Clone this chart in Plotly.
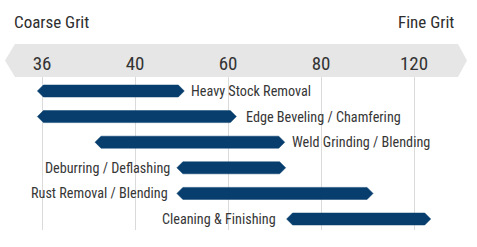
import plotly.graph_objects as go

# ---- data ----
tick_labels = ["36", "40", "60", "80", "120"]          # grit scale (equally spaced positions)
tick_pos = [0, 1, 2, 3, 4]
applications = ["Heavy Stock Removal", "Edge Beveling / Chamfering", "Weld Grinding / Blending",
                "Deburring / Deflashing", "Rust Removal / Blending", "Cleaning & Finishing"]
range_start = [-0.05, -0.05, 0.57, 1.45, 1.45, 2.63]   # on grit-position scale
range_end = [1.53, 2.09, 2.61, 2.62, 3.56, 4.18]
label_side = ["right", "right", "right", "left", "left", "left"]

# ---- style ----
W, H = 477, 247
TOP, BOT = 77, 230
ROW0, ROWSTEP = 91, 25.6
PX_PER_X = 93.0
X0PX = 42
BAR = "#073e6e"
TXT = "#363636"
FONT = "Liberation Sans Narrow, Roboto Condensed, Arial Narrow, Roboto, sans-serif"
label_gap = [5, 8, 5, 5, 7, 9]

xmin = -X0PX / PX_PER_X
xmax = (W - X0PX) / PX_PER_X
ytop = (TOP - ROW0) / ROWSTEP
ybot = (BOT - ROW0) / ROWSTEP
tip = 6 / PX_PER_X
hh = 6 / ROWSTEP

fig = go.Figure()
for i, (a, s, e) in enumerate(zip(applications, range_start, range_end)):
    xs = [s, s + tip, e - tip, e, e - tip, s + tip, s]
    ys = [i, i - hh, i - hh, i, i + hh, i + hh, i]
    fig.add_trace(go.Scatter(x=xs, y=ys, mode="lines", fill="toself", fillcolor=BAR,
                             line=dict(color=BAR, width=0.5), hoverinfo="skip",
                             showlegend=False, cliponaxis=False))
    if label_side[i] == "right":
        fig.add_annotation(x=e, y=i, text=a, xanchor="left", yanchor="middle",
                           xshift=label_gap[i], showarrow=False,
                           font=dict(family=FONT, size=14.2, color=TXT))
    else:
        fig.add_annotation(x=s, y=i, text=a, xanchor="right", yanchor="middle",
                           xshift=-label_gap[i], showarrow=False,
                           font=dict(family=FONT, size=14.2, color=TXT))

ph = BOT - TOP
def py(px):
    return (BOT - px) / ph

band_top, band_bot = 44, 77
mid = (band_top + band_bot) / 2
path = (f"M {15/W} {py(band_top)} L {458/W} {py(band_top)} L {467/W} {py(mid)} "
        f"L {458/W} {py(band_bot)} L {15/W} {py(band_bot)} L {5/W} {py(mid)} Z")
fig.add_shape(type="path", path=path, xref="paper", yref="paper",
              fillcolor="#e6e6e6", line=dict(width=0), layer="below")

fig.add_annotation(x=12 / W, y=py(22), xref="paper", yref="paper", text="Coarse Grit",
                   xanchor="left", yanchor="middle", showarrow=False,
                   font=dict(family=FONT, size=17, color="#2e2e2e"))
fig.add_annotation(x=456 / W, y=py(22), xref="paper", yref="paper", text="Fine Grit",
                   xanchor="right", yanchor="middle", showarrow=False,
                   font=dict(family=FONT, size=17, color="#2e2e2e"))

fig.update_layout(
    width=W, height=H, margin=dict(l=0, r=0, t=TOP, b=H - BOT),
    paper_bgcolor="white", plot_bgcolor="white",
    xaxis=dict(range=[xmin, xmax], tickvals=tick_pos, ticktext=tick_labels, side="top",
               showgrid=True, gridcolor="#dadada", gridwidth=1, zeroline=False,
               showline=False, ticks="", ticklabelstandoff=2,
               tickfont=dict(family=FONT, size=19, color="#333333"), fixedrange=True),
    yaxis=dict(range=[ybot, ytop], showgrid=False, zeroline=False, showticklabels=False,
               showline=False, fixedrange=True),
)
fig.write_html("out.html")
